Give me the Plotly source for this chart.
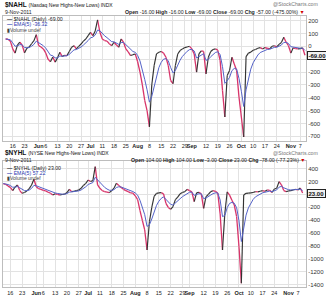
import plotly.graph_objects as go
import pandas as pd

# ---------------- data ----------------
holidays = ["2011-05-30", "2011-07-04", "2011-09-05"]
dates = [d.strftime("%Y-%m-%d") for d in pd.bdate_range("2011-05-11", "2011-11-09")
         if d.strftime("%Y-%m-%d") not in holidays]

nahl = [
    57, 55, 40, -20, -53, 10, 32, 10, -51, -15,
    -5, 20, 44, 91, 5, -5, -20, -51, -100, -121,
    -83, -123, -90, -46, -80, -70, -72, -40, -7, 5,
    -20, 0, 18, 40, 57, 83, 109, 83, 120, 205,
    109, 57, 45, 40, 20, 5, 32, 10, -7, 57,
    32, -20, -43, -72, -65, -60, -120, -200, -300, -420,
    -500, -627, -300, -150, -59, -46, -40, -53, -85, -150,
    -266, -291, -150, -60, -33, -20, -10, -5, 0, -20,
    -60, -201, -59, -35, -40, -214, -85, -40, -25, -20,
    -30, -111, -343, -550, -227, -188, -85, -137, -188, -395,
    -550, -705, -80, -53, -45, -30, -25, -15, -10, -20,
    -10, -15, -20, 0, 5, -5, 15, 30, 70, 32,
    5, -53, -12, -18, -20, -18, -12, -69,
]

nyhl = [
    170, 158, 130, 110, 59, 115, 147, 60, 18, 30,
    55, 90, 147, 236, 121, 90, 80, 65, 55, 35,
    20, -8, 10, 0, -8, 0, 5, 30, 80, 44,
    50, 60, 70, 96, 140, 173, 225, 200, 215, 431,
    150, 96, 60, 45, 35, 28, 60, 100, 173, 140,
    110, 80, 60, 44, 25, 20, -20, -80, -250, -400,
    -550, -860, -421, -200, -30, 18, 25, 28, 10, -137,
    -200, -230, -189, -80, -40, 10, 30, 44, 80, 60,
    40, -111, 25, 35, 10, -214, -34, 0, 44, 59,
    50, 20, -300, -860, -290, 40, -10, -90, -163, -344,
    -809, -1376, -8, 18, 20, 25, 30, 44, 40, 50,
    60, 50, 70, 65, 30, 85, 96, 199, 150, 60,
    45, 55, 60, 70, 80, 70, 101, 23,
]

tick_dates = ["2011-05-16", "2011-05-23", "2011-06-01", "2011-06-06", "2011-06-13",
              "2011-06-20", "2011-06-27", "2011-07-01", "2011-07-11", "2011-07-18",
              "2011-07-25", "2011-08-01", "2011-08-08", "2011-08-15", "2011-08-22",
              "2011-08-29", "2011-09-01", "2011-09-12", "2011-09-19", "2011-09-26",
              "2011-10-03", "2011-10-10", "2011-10-17", "2011-10-24", "2011-11-01",
              "2011-11-07"]
tick_labels = ["16", "23", "<b>Jun</b>", "6", "13", "20", "27", "<b>Jul</b>", "11", "18",
               "25", "<b>Aug</b>", "8", "15", "22", "29", "<b>Sep</b>", "12", "19", "26",
               "<b>Oct</b>", "10", "17", "24", "<b>Nov</b>", "7"]

top_yticks = [200, 100, 0, -100, -200, -300, -400, -500, -600, -700]
top_ylabels = ["200", "100", "0", "", "-200", "-300", "-400", "-500", "-600", "-700"]
bot_yticks = [400, 200, 0, -200, -400, -600, -800, -1000, -1200, -1400]
bot_ylabels = ["400", "200", "", "-200", "-400", "-600", "-800", "-1000", "-1200", "-1400"]

n = min(len(dates), len(nahl), len(nyhl))
dates = dates[:n]
nahl = nahl[:n]
nyhl = nyhl[:n]


def ema(vals, span=5):
    a = 2.0 / (span + 1)
    out, e = [], vals[0]
    for v in vals:
        e = a * v + (1 - a) * e
        out.append(e)
    return out


def segments(x, y, up):
    xs, ys = [], []
    for i in range(1, len(y)):
        if (y[i] >= y[i - 1]) == up:
            xs += [x[i - 1], x[i], x[i]]
            ys += [y[i - 1], y[i], None]
    return xs, ys


ema_top = ema(nahl)
ema_bot = ema(nyhl)

W, H = 326, 300
RED = "#d8346a"
BLK = "#333333"
BLU = "#5563c8"
FONT = "Liberation Sans"


def px(x):
    return x / W


def py(y):
    return 1 - y / H


fig = go.Figure()

for (vals, ev, xa, ya) in [(nahl, ema_top, "x", "y"), (nyhl, ema_bot, "x2", "y2")]:
    xs, ys = segments(dates, vals, False)
    fig.add_trace(go.Scatter(x=xs, y=ys, mode="lines", xaxis=xa, yaxis=ya,
                             line=dict(color=RED, width=1.3), connectgaps=False))
    xs, ys = segments(dates, vals, True)
    fig.add_trace(go.Scatter(x=xs, y=ys, mode="lines", xaxis=xa, yaxis=ya,
                             line=dict(color=BLK, width=1.15), connectgaps=False))
    fig.add_trace(go.Scatter(x=dates, y=ev, mode="lines", xaxis=xa, yaxis=ya,
                             line=dict(color=BLU, width=1)))

xdom = [px(3), px(306)]
top_dom = [py(140.5), py(16)]
bot_dom = [py(287), py(161)]

common_x = dict(type="category", categoryorder="array", categoryarray=dates,
                tickmode="array", tickvals=tick_dates, ticktext=tick_labels,
                tickangle=0, tickfont=dict(family=FONT, size=5.5, color="#222"),
                showgrid=True, gridcolor="#e2e2e2", gridwidth=1, zeroline=False,
                showline=True, linecolor="#bdbdbd", linewidth=1, mirror=True,
                ticks="", domain=xdom, autorange=False, fixedrange=True)
common_y = dict(side="right", tickmode="array",
                tickfont=dict(family=FONT, size=6, color="#333"),
                showgrid=True, gridcolor="#e2e2e2", gridwidth=1, zeroline=False,
                showline=True, linecolor="#bdbdbd", linewidth=1, mirror=True,
                ticks="", autorange=False, fixedrange=True)

fig.update_layout(
    width=W, height=H, margin=dict(l=0, r=0, t=0, b=0),
    paper_bgcolor="white", plot_bgcolor="white", showlegend=False, hovermode=False,
    xaxis=dict(common_x, anchor="y", range=[-1.12, 127.43]),
    yaxis=dict(common_y, anchor="x", domain=top_dom, range=[-733, 236],
               tickvals=top_yticks, ticktext=top_ylabels),
    xaxis2=dict(common_x, anchor="y2", range=[-0.12, 128.43]),
    yaxis2=dict(common_y, anchor="x2", domain=bot_dom, range=[-1434, 519],
                tickvals=bot_yticks, ticktext=bot_ylabels),
)

ann = []


def text(x, y, s, size=5.5, color="#222", anchor="left"):
    ann.append(dict(x=px(x), y=py(y), xref="paper", yref="paper", text=s,
                    showarrow=False, xanchor=anchor, yanchor="middle",
                    font=dict(family=FONT, size=size, color=color)))


panels = [
    dict(y0=0, sym="$NAHL", name="(Nasdaq New Highs-New Lows) INDX",
         ohlc="<b>Open</b> -16.00 <b>High</b> -16.00 <b>Low</b> -69.00 <b>Close</b> -69.00 "
              "<b>Chg</b> -57.00 (-475.00%) <span style='color:#d00000'>▼</span>",
         close="-69.00", emav="-36.32"),
    dict(y0=148.6, sym="$NYHL", name="(NYSE New Highs-New Lows) INDX",
         ohlc="<b>Open</b> 104.00 <b>High</b> 104.00 <b>Low</b> -3.00 <b>Close</b> 23.00 "
              "<b>Chg</b> -78.00 (-77.23%) <span style='color:#d00000'>▼</span>",
         close="23.00", emav="57.22"),
]

for p in panels:
    y0 = p["y0"]
    text(2.5, y0 + 4.8, "<b>" + p["sym"] + "</b> <span style='font-size:5px'>" + p["name"] + "</span>",
         size=6.5, color="#111")
    text(2.5, y0 + 11.6, "9-Nov-2011", size=5.2, color="#222")
    text(320, y0 + 4, "@StockCharts.com", size=5.2, color="#777", anchor="right")
    text(307, y0 + 11.8, p["ohlc"], size=5.2, color="#222", anchor="right")
    text(5, y0 + 19.2, "<b>—</b> " + p["sym"] + " (Daily) " + p["close"], size=5.2, color="#222")
    text(5, y0 + 24.4, "<b>—</b> EMA(5) " + p["emav"], size=5.2, color="#2b38b0")
    text(5, y0 + 29.6, "<b>▮</b>Volume undef", size=5.0, color="#444")

# last-value boxes on the right axis
for (vals, ya, c_txt) in [(nahl, "y", "-69.00"), (nyhl, "y2", "23.00")]:
    ann.append(dict(x=px(306.5), y=vals[-1], xref="paper", yref=ya,
                    text="<b>" + c_txt + "</b>", showarrow=False, xanchor="left",
                    yanchor="middle", font=dict(family=FONT, size=6, color="#111"),
                    bgcolor="#f2f2f2", bordercolor="#222", borderwidth=1, borderpad=0.5))

fig.update_layout(annotations=ann)

fig.write_html("out.html")
